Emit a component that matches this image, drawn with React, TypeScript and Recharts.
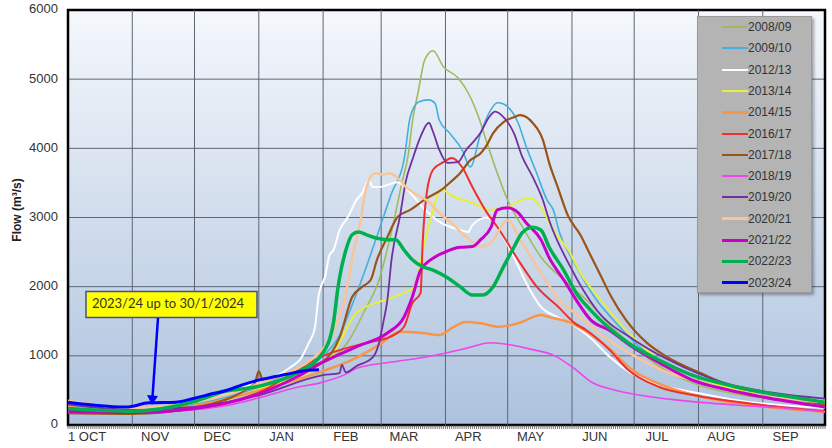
import React from 'react';
import { LineChart, Line, XAxis, YAxis, CartesianGrid, ReferenceLine, ReferenceArea } from 'recharts';

const W = 832;
const H = 448;
const FONT = '"Liberation Sans", Arial, sans-serif';

// x is the day of the water year, counted from 1 October
const monthStarts = [0, 31, 61, 92, 123, 151, 182, 212, 243, 273, 304, 335, 365];
const monthLabels = ['1 OCT', 'NOV', 'DEC', 'JAN', 'FEB', 'MAR', 'APR', 'MAY', 'JUN', 'JUL', 'AUG', 'SEP'];
const flowTicks = [0, 1000, 2000, 3000, 4000, 5000, 6000];
const dayTicks = Array.from({ length: 366 }, (_, i) => i);

// [day, flow m3/s]
const y0809 = [[0,260],[15,220],[31,190],[61,260],[92,520],[110,720],[123,900],[135,1200],[143,1650],[150,2100],[156,2800],[161,3500],[164,3900],[166,4370],[169,4840],[172,5280],[176,5410],[181,5180],[188,5020],[193,4800],[198,4450],[202,4080],[207,3640],[212,3250],[220,2820],[228,2430],[239,2100],[252,1750],[262,1420],[273,1130],[285,850],[304,580],[320,460],[335,390],[365,310]];
const y0910 = [[0,280],[31,220],[61,300],[92,550],[123,1000],[131,1300],[136,1660],[144,2300],[150,2820],[156,3350],[162,3830],[165,4450],[169,4670],[174,4700],[177,4650],[179,4410],[184,4220],[190,3980],[194,3730],[199,4220],[203,4510],[207,4660],[210,4640],[217,4370],[221,4020],[226,3640],[231,3250],[234,3110],[237,2780],[244,2350],[255,1800],[262,1550],[273,1200],[288,870],[304,680],[320,530],[335,450],[365,370]];
const y1213 = [[0,250],[31,220],[61,330],[92,620],[100,700],[108,850],[112,950],[116,1180],[119,1400],[121,1900],[124,2150],[126,2450],[128,2530],[131,2820],[135,3010],[139,3250],[142,3360],[145,3540],[147,3440],[150,3440],[159,3510],[165,3360],[171,3150],[179,2940],[189,2820],[193,2790],[195,2890],[202,3000],[207,2860],[215,2430],[221,2050],[228,1710],[236,1560],[244,1440],[253,1230],[261,990],[271,760],[288,560],[304,460],[320,370],[335,310],[365,250]];
const y1314 = [[0,200],[31,180],[61,250],[92,520],[123,900],[128,1050],[139,1620],[150,1780],[157,1850],[162,1910],[167,2000],[171,2500],[175,3000],[180,3400],[186,3300],[195,3210],[203,3110],[212,3150],[218,3250],[223,3280],[228,3150],[234,2820],[242,2490],[247,2200],[257,1800],[273,1250],[287,900],[304,680],[320,530],[335,460],[365,350]];
const y1415 = [[0,260],[31,220],[61,280],[92,500],[123,780],[139,970],[150,1160],[160,1350],[171,1330],[179,1300],[186,1420],[192,1490],[199,1470],[208,1420],[218,1480],[228,1590],[232,1560],[242,1480],[251,1330],[260,1130],[272,800],[289,550],[305,410],[337,260],[365,190]];
const y1617 = [[0,230],[31,180],[61,230],[92,470],[123,1000],[144,1190],[155,1270],[162,1420],[166,1760],[170,1910],[171,2630],[173,3360],[176,3690],[181,3800],[185,3860],[190,3730],[195,3440],[202,3070],[208,2820],[217,2390],[226,2000],[237,1690],[244,1480],[250,1370],[261,1090],[270,800],[285,550],[304,420],[335,290],[365,200]];
const y1718 = [[0,170],[31,160],[61,250],[90,600],[92,780],[94,640],[110,800],[123,920],[131,1270],[137,1850],[142,2000],[146,2100],[149,2390],[154,2720],[159,3010],[165,3110],[173,3280],[180,3400],[184,3500],[189,3640],[194,3830],[199,3930],[202,4050],[205,4220],[210,4380],[215,4450],[218,4480],[224,4370],[229,4120],[232,3790],[236,3450],[241,3030],[247,2750],[252,2450],[257,2150],[262,1850],[269,1520],[279,1190],[289,980],[305,750],[321,550],[337,460],[365,290]];
const y1819 = [[0,210],[31,175],[61,220],[78,290],[93,400],[109,535],[123,620],[135,750],[139,820],[156,910],[172,980],[188,1080],[192,1110],[204,1190],[213,1160],[224,1090],[234,1010],[244,820],[253,610],[263,510],[276,430],[294,360],[321,290],[345,245],[365,190]];
const y1920 = [[0,300],[31,220],[61,260],[92,430],[123,720],[131,750],[132,870],[134,760],[139,850],[147,980],[150,1190],[152,1480],[154,1810],[156,2390],[160,3010],[163,3540],[166,3830],[170,4170],[174,4370],[176,4240],[179,3980],[183,3790],[188,3800],[192,3980],[195,4080],[199,4230],[203,4450],[206,4530],[209,4480],[215,4220],[219,3880],[224,3590],[229,3250],[232,2960],[242,2300],[255,1660],[273,1230],[289,950],[305,730],[320,580],[335,490],[365,380]];
const y2021 = [[0,350],[31,250],[61,330],[92,600],[123,1100],[130,1500],[134,1900],[137,2400],[141,2950],[144,3450],[148,3640],[152,3620],[155,3640],[159,3570],[163,3440],[168,3330],[173,3250],[179,3070],[186,2890],[192,2720],[199,2580],[204,2640],[212,2960],[218,2680],[228,2200],[237,1810],[247,1560],[255,1350],[273,1000],[289,760],[305,620],[320,500],[335,420],[365,330]];
const y2122 = [[0,200],[31,180],[61,240],[92,450],[110,690],[123,910],[139,1130],[154,1330],[162,1560],[166,1850],[170,2240],[175,2390],[181,2490],[189,2570],[195,2580],[199,2680],[204,2860],[207,3110],[212,3140],[217,3070],[221,2920],[228,2680],[232,2420],[239,2100],[245,1810],[252,1520],[261,1370],[272,1130],[285,900],[301,650],[318,510],[334,410],[365,260]];
const y2223 = [[0,240],[31,200],[61,340],[75,480],[92,560],[110,750],[123,1050],[128,1480],[130,1950],[131,2140],[134,2530],[137,2750],[140,2790],[144,2750],[149,2700],[154,2680],[158,2680],[162,2530],[166,2390],[171,2290],[176,2240],[183,2130],[189,2000],[195,1880],[200,1880],[205,2000],[210,2290],[215,2570],[219,2780],[224,2860],[228,2820],[232,2570],[239,2240],[245,1910],[252,1660],[270,1190],[285,940],[301,720],[318,580],[334,480],[365,330]];
const y2324 = [[0,330],[12,290],[28,260],[39,320],[52,330],[60,380],[68,440],[77,506],[84,580],[92,650],[100,700],[108,750],[116,790],[121,800]];

const toRows = (pts: number[][]) => pts.map(([day, flow]) => ({ day, flow }));

const series = [
  { name: '2008/09', color: '#9fba5c', width: 1.6, pts: y0809 },
  { name: '2009/10', color: '#45aede', width: 1.6, pts: y0910 },
  { name: '2012/13', color: '#ffffff', width: 2, pts: y1213 },
  { name: '2013/14', color: '#e4f03a', width: 2, pts: y1314 },
  { name: '2014/15', color: '#f79646', width: 2.5, pts: y1415 },
  { name: '2016/17', color: '#ee3030', width: 2, pts: y1617 },
  { name: '2017/18', color: '#9a5418', width: 2.2, pts: y1718 },
  { name: '2018/19', color: '#ee44ee', width: 1.6, pts: y1819 },
  { name: '2019/20', color: '#7030a0', width: 1.8, pts: y1920 },
  { name: '2020/21', color: '#f8c49a', width: 2.5, pts: y2021 },
  { name: '2021/22', color: '#c800c8', width: 3, pts: y2122 },
  { name: '2022/23', color: '#00b050', width: 3.5, pts: y2223 },
  { name: '2023/24', color: '#0000ff', width: 3, pts: y2324 },
];

const labelAt: Record<number, string> = {};
monthLabels.forEach((l, i) => {
  labelAt[i === 0 ? 0 : monthStarts[i] + 11] = l;
});

const DayTick = (props: any) => {
  const { x, y, payload } = props;
  const label = labelAt[payload.value];
  return (
    <g>
      <line x1={x} y1={y} x2={x} y2={y + 4} stroke="#555" strokeWidth={0.8} />
      {label && (
        <text
          x={x}
          y={y + 13}
          textAnchor={payload.value === 0 ? 'start' : 'middle'}
          dominantBaseline="middle"
          fontSize={13}
          fill="#333"
          fontFamily={FONT}
        >
          {label}
        </text>
      )}
    </g>
  );
};

const FlowTick = (props: any) => {
  const { x, y, payload } = props;
  return (
    <text x={x} y={y} textAnchor="end" dominantBaseline="middle" fontSize={13} fill="#333" fontFamily={FONT}>
      {payload.value}
    </text>
  );
};

const gridColor = '#5f6672';

export default function App() {
  return (
    <div style={{ position: 'relative', width: W, height: H, background: '#fff', fontFamily: FONT }}>
      <style>{`body{margin:0}`}</style>
      <LineChart width={W} height={H} margin={{ top: 10, right: 7, left: 8, bottom: 0 }}>
        <defs>
          <linearGradient id="plotBg" x1="0" y1="0" x2="0" y2="1">
            <stop offset="0%" stopColor="#f5f8fc" />
            <stop offset="100%" stopColor="#adc2de" />
          </linearGradient>
        </defs>
        <CartesianGrid vertical={false} fill="url(#plotBg)" stroke={gridColor} strokeWidth={1} />
        <XAxis
          type="number"
          dataKey="day"
          domain={[0, 365]}
          ticks={dayTicks}
          interval={0}
          tick={<DayTick />}
          tickLine={false}
          axisLine={false}
          tickSize={0}
          tickMargin={0}
          height={23}
          allowDataOverflow
        />
        <YAxis
          type="number"
          domain={[0, 6000]}
          ticks={flowTicks}
          interval={0}
          tick={<FlowTick />}
          tickLine={false}
          axisLine={false}
          tickSize={0}
          tickMargin={10}
          width={60}
        />
        {monthStarts.slice(1, -1).map((d) => (
          <ReferenceLine key={d} x={d} stroke={gridColor} strokeWidth={1} />
        ))}
        {series.map((s) => (
          <Line
            key={s.name}
            data={toRows(s.pts)}
            dataKey="flow"
            name={s.name}
            type="monotone"
            stroke={s.color}
            strokeWidth={s.width}
            dot={false}
            activeDot={false}
            isAnimationActive={false}
          />
        ))}
        <ReferenceArea x1={0} x2={365} y1={0} y2={6000} fill="none" stroke="#000" strokeWidth={2.5} ifOverflow="visible" />
      </LineChart>

      {/* legend box */}
      <div
        style={{
          position: 'absolute',
          left: 697,
          top: 16,
          width: 115,
          height: 277,
          background: '#b4b4b4',
          border: '1px solid #9a9a9a',
          boxShadow: '2px 2px 3px rgba(0,0,0,0.35)',
          boxSizing: 'border-box',
        }}
      >
        {series.map((s, i) => (
          <div
            key={s.name}
            style={{ position: 'absolute', left: 24, top: 10 + i * 21.3 - 8, height: 16, display: 'flex', alignItems: 'center' }}
          >
            <div style={{ width: 26, height: s.width >= 2.5 ? 3 : 2, background: s.color }} />
            <span style={{ fontSize: 12, color: '#333' }}>{s.name}</span>
          </div>
        ))}
      </div>

      {/* axis title and note */}
      <svg width={W} height={H} style={{ position: 'absolute', left: 0, top: 0, pointerEvents: 'none' }}>
        <text
          x={18}
          y={210}
          transform="rotate(-90 18 210)"
          textAnchor="middle"
          dominantBaseline="middle"
          fontSize={12}
          fontWeight="bold"
          fill="#222"
          fontFamily={FONT}
        >
          Flow (m³/s)
        </text>
        <rect x={86} y={291.5} width={171} height={26} fill="#ffff00" stroke="#44508a" strokeWidth={1.5} />
        <text x={168} y={305} textAnchor="middle" dominantBaseline="middle" fontSize={13} fill="#333" fontFamily="Lato, sans-serif">
          2023/24 up to 30/1/2024
        </text>
        <line x1={158} y1={318} x2={152.5} y2={397} stroke="#0000ff" strokeWidth={2.5} />
        <polygon points="147,395 158,396 152,405" fill="#0000ff" />
      </svg>
    </div>
  );
}
